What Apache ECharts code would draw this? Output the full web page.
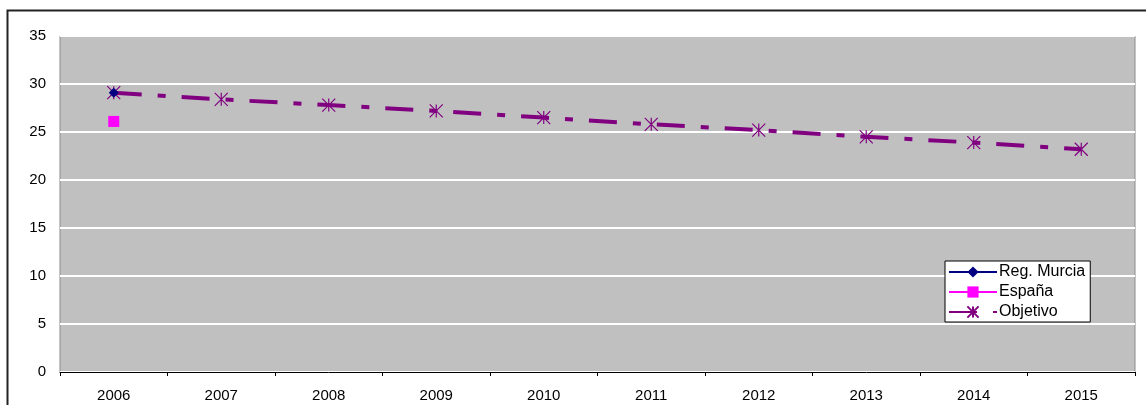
<!DOCTYPE html>
<html>
<head>
<meta charset="utf-8">
<script src="https://cdn.jsdelivr.net/npm/echarts@6/dist/echarts.min.js"></script>
<style>
html,body{margin:0;padding:0;background:#fff;}
#chart1{width:1146px;height:405px;}
</style>
</head>
<body>
<div id="chart1"></div>
<script>
var years = ['2006','2007','2008','2009','2010','2011','2012','2013','2014','2015'];
var murcia = [29.1, null, null, null, null, null, null, null, null, null];
var espana = [26.1, null, null, null, null, null, null, null, null, null];
var objetivo = [29.1, 28.4, 27.8, 27.2, 26.5, 25.8, 25.2, 24.5, 23.9, 23.2];
var yTicks = [0, 5, 10, 15, 20, 25, 30, 35];

var star = 'path://M0,0L10,10M10,0L0,10M5,0L5,10';

function initChart(elem){
	var myChart = echarts.init(document.getElementById(elem));
	var font = 'Liberation Sans, Arial, sans-serif';
	var option = {
		animation: false,
		textStyle: { fontFamily: font },
		graphic: [{
			type: 'rect',
			shape: { x: 7.5, y: 10.5, width: 1300, height: 600 },
			style: { fill: 'none', stroke: '#222', lineWidth: 2 },
			silent: true
		}],
		grid: {
			left: 60, top: 36, right: 11, bottom: 33,
			show: true,
			backgroundColor: '#c0c0c0',
			borderColor: '#8a8a8a',
			borderWidth: 1
		},
		legend: {
			orient: 'vertical',
			left: 945, top: 261,
			backgroundColor: '#fff',
			borderColor: '#000',
			borderWidth: 1,
			padding: [3, 5, 2, 3],
			itemGap: 4,
			itemWidth: 48,
			itemHeight: 14,
			textStyle: { fontFamily: font, fontSize: 16, lineHeight: 16, color: '#000', padding: [0, 0, 0, -3] },
			data: ['Reg. Murcia', 'España', 'Objetivo']
		},
		xAxis: {
			type: 'category',
			data: years,
			boundaryGap: true,
			axisLine: { show: true, lineStyle: { color: '#000', width: 1 } },
			axisTick: { show: true, length: 4, lineStyle: { color: '#000' } },
			axisLabel: { color: '#000', fontSize: 15, margin: 16, fontFamily: font },
			splitLine: { show: false }
		},
		yAxis: {
			type: 'value',
			min: yTicks[0],
			max: yTicks[yTicks.length - 1],
			interval: 5,
			axisLine: { show: false },
			axisTick: { show: false },
			axisLabel: { color: '#000', fontSize: 15, margin: 14, fontFamily: font },
			splitLine: { show: true, lineStyle: { color: '#fff', width: 2 } }
		},
		series: [
			{
				name: 'Objetivo',
				type: 'line',
				data: objetivo,
				symbol: star,
				symbolSize: 13,
				lineStyle: { color: '#800080', width: 4, type: [28, 16, 8, 16] },
				itemStyle: { color: 'rgba(0,0,0,0)', borderColor: '#800080', borderWidth: 1.2 },
				z: 2
			},
			{
				name: 'Reg. Murcia',
				type: 'line',
				data: murcia,
				symbol: 'diamond',
				symbolSize: 10,
				lineStyle: { color: '#000080', width: 2 },
				itemStyle: { color: '#000080' },
				z: 3
			},
			{
				name: 'España',
				type: 'line',
				data: espana,
				symbol: 'rect',
				symbolSize: 11,
				lineStyle: { color: '#ff00ff', width: 2 },
				itemStyle: { color: '#ff00ff' },
				z: 3
			}
		]
	};
	myChart.setOption(option);
}

initChart('chart1');
</script>
</body>
</html>
